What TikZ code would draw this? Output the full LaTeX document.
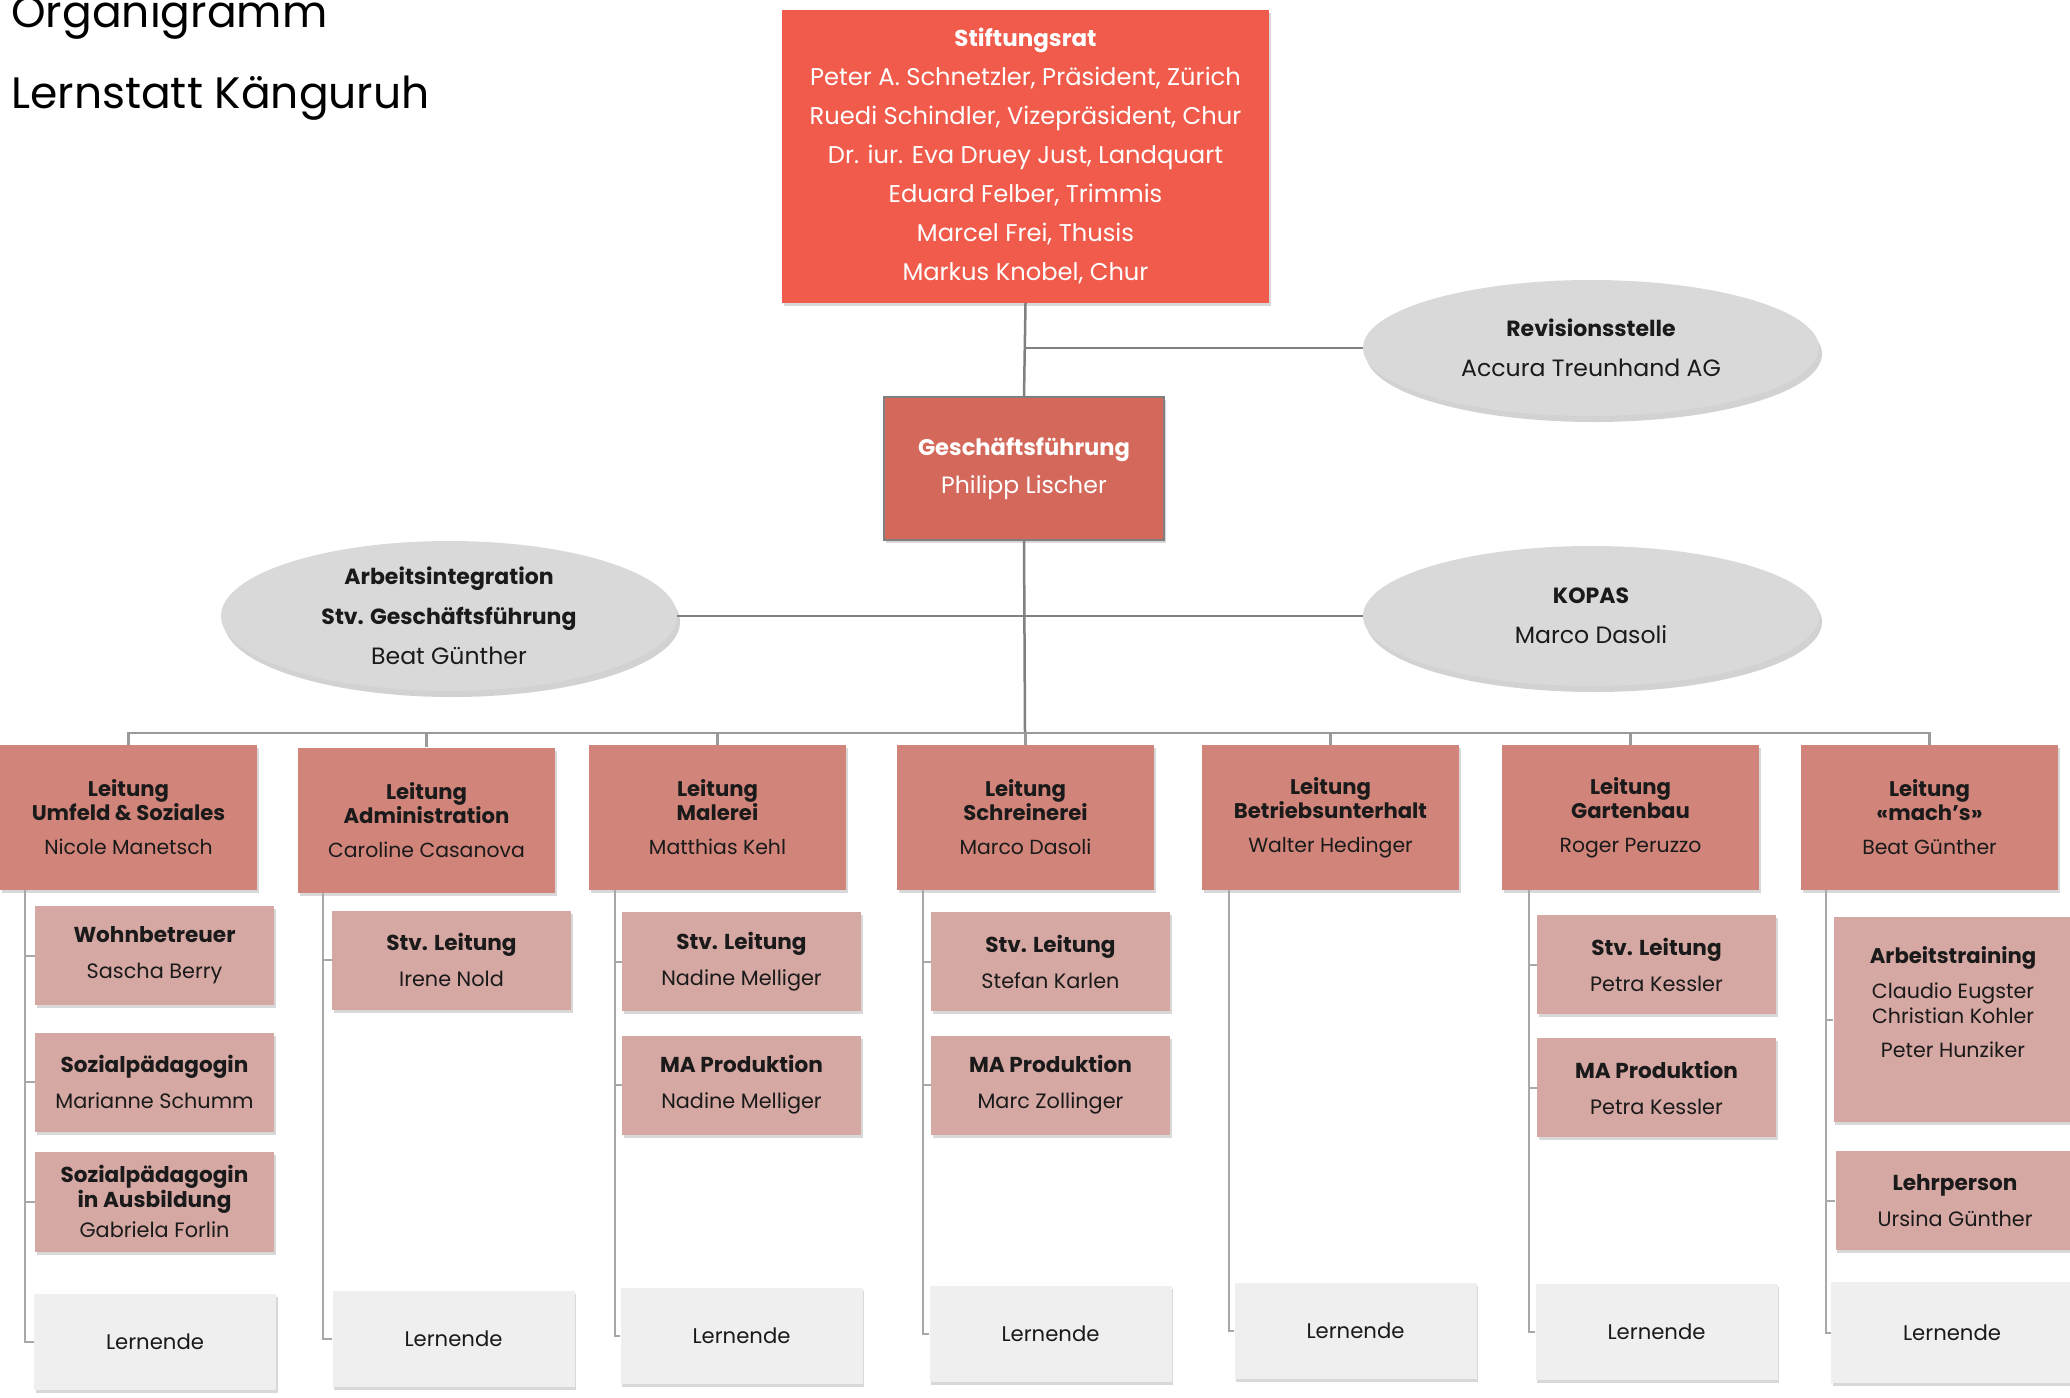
\documentclass[tikz,border=0pt]{standalone}
\usepackage{fontspec}
\setmainfont{Poppins}
\usetikzlibrary{shapes.geometric,shadows}
\definecolor{stiftc}{HTML}{F05B4B}
\definecolor{gfc}{HTML}{D4695B}
\definecolor{gfborder}{HTML}{7F7F7F}
\definecolor{leitc}{HTML}{D1847A}
\definecolor{subc}{HTML}{D6A8A3}
\definecolor{lernc}{HTML}{EFEFEF}
\definecolor{ellc}{HTML}{D9D9D9}
\definecolor{linec}{HTML}{808080}
\definecolor{buslinec}{HTML}{9A9A9A}
\definecolor{sublinec}{HTML}{A8A8A8}
\definecolor{txtc}{HTML}{1A1A1A}
\newcommand\bt[2]{{\fontsize{#1}{#1}\selectfont\bfseries #2}}
\newcommand\ltg[2]{\bt{10.6}{Leitung}\\\bt{10.6}{#1}\\[5pt]#2}
\newcommand\sbx[2]{\bt{10.8}{#1}\\[6pt]#2}
\begin{document}
\begin{tikzpicture}[x=0.5pt,y=-0.5pt,
  shade/.style={drop shadow={opacity=0.3,shadow xshift=0.8pt,shadow yshift=-1.5pt}},
  box/.style={rectangle,inner sep=0pt,align=center,text=txtc,shade},
  stiftbox/.style={box,fill=stiftc,text=white,minimum width=243.5pt,minimum height=146.5pt,font=\fontsize{12.1}{19.5}\selectfont},
  gfbox/.style={box,fill=gfc,draw=gfborder,line width=0.8pt,text=white,minimum width=140pt,minimum height=71.5pt,font=\fontsize{11.8}{19}\selectfont},
  leitbox/.style={box,fill=leitc,minimum width=128.5pt,minimum height=72.5pt,font=\fontsize{10.2}{12}\selectfont},
  subbox/.style={box,fill=subc,minimum width=119.5pt,minimum height=49.5pt,font=\fontsize{10.4}{12}\selectfont},
  lernbox/.style={box,fill=lernc,minimum width=121pt,minimum height=48pt,font=\fontsize{10.6}{12}\selectfont},
  ellnode/.style={ellipse,fill=ellc,inner sep=0pt,align=center,text=txtc,minimum width=228pt,
     drop shadow={opacity=0.35,shadow xshift=1.5pt,shadow yshift=-3pt},font=\fontsize{11.8}{20}\selectfont},
  txtnode/.style={inner sep=0pt,align=center,text=txtc},
  conn/.style={draw=linec,line width=1.25pt},
  busconn/.style={draw=buslinec,line width=1.1pt},
  subconn/.style={draw=sublinec,line width=1pt},
  titletxt/.style={inner sep=0pt,anchor=base west,font=\fontsize{22}{24}\selectfont,text=black}
]
\useasboundingbox[fill=white] (0,0) rectangle (2070,1397);

% title
\node[titletxt] (t1) at (11,27) {Organigramm};
\node[titletxt] (t2) at (11,108) {Lernstatt Känguruh};

% top
\node[stiftbox] (stift) at (1025.5,156) {\bt{11.5}{Stiftungsrat}\\Peter A. Schnetzler, Präsident, Zürich\\Ruedi Schindler, Vizepräsident, Chur\\Dr. iur. Eva Druey Just, Landquart\\Eduard Felber, Trimmis\\Marcel Frei, Thusis\\Markus Knobel, Chur};
\node[gfbox] (gf) at (1024,468.5) {\bt{11.3}{Geschäftsführung}\\Philipp Lischer};
\node[ellnode,minimum height=68pt] (rev) at (1591,348) {\bt{11}{Revisionsstelle}\\Accura Treunhand AG};
\node[ellnode,minimum height=75pt] (ai) at (449,616) {\bt{11}{Arbeitsintegration}\\\bt{11}{Stv. Geschäftsführung}\\Beat Günther};
\node[ellnode,minimum height=70pt] (kopas) at (1591,616) {\bt{11}{KOPAS}\\Marco Dasoli};

% Leitung row
\node[leitbox] (l1) at (128.5,817.5) {\ltg{Umfeld \& Soziales}{Nicole Manetsch}};
\node[leitbox] (l2) at (426.5,820) {\ltg{Administration}{Caroline Casanova}};
\node[leitbox] (l3) at (717.5,817.5) {\ltg{Malerei}{Matthias Kehl}};
\node[leitbox] (l4) at (1025.5,817.5) {\ltg{Schreinerei}{Marco Dasoli}};
\node[leitbox] (l5) at (1330.5,817.5) {\ltg{Betriebsunterhalt}{Walter Hedinger}};
\node[leitbox] (l6) at (1630.5,817.5) {\ltg{Gartenbau}{Roger Peruzzo}};
\node[leitbox] (l7) at (1929.5,817.5) {\ltg{«mach’s»}{Beat Günther}};

% column 1
\node[subbox] (wohn) at (154.5,955.5) {\sbx{Wohnbetreuer}{Sascha Berry}};
\node[subbox] (sozp) at (154.5,1082) {\sbx{Sozialpädagogin}{Marianne Schumm}};
\node[subbox,minimum height=50pt] (soza) at (154.5,1201.5) {\bt{10.8}{Sozialpädagogin}\\[0.5pt]\bt{10.8}{in Ausbildung}\\[3pt]Gabriela Forlin};
\node[lernbox] (lern1) at (155,1341.5) {Lernende};
% column 2
\node[subbox] (stv2) at (451.5,960) {\sbx{Stv. Leitung}{Irene Nold}};
\node[lernbox] (lern2) at (453.5,1339) {Lernende};
% column 3
\node[subbox] (stv3) at (741.5,961.5) {\sbx{Stv. Leitung}{Nadine Melliger}};
\node[subbox] (ma3) at (741.5,1085) {\sbx{MA Produktion}{Nadine Melliger}};
\node[lernbox] (lern3) at (741.5,1336) {Lernende};
% column 4
\node[subbox] (stv4) at (1050.5,961.5) {\sbx{Stv. Leitung}{Stefan Karlen}};
\node[subbox] (ma4) at (1050.5,1085) {\sbx{MA Produktion}{Marc Zollinger}};
\node[lernbox] (lern4) at (1050.5,1333.5) {Lernende};
% column 5
\node[lernbox] (lern5) at (1355.5,1331) {Lernende};
% column 6
\node[subbox] (stv6) at (1656.5,964.5) {\sbx{Stv. Leitung}{Petra Kessler}};
\node[subbox] (ma6) at (1656.5,1087.5) {\sbx{MA Produktion}{Petra Kessler}};
\node[lernbox] (lern6) at (1656.5,1332) {Lernende};
% column 7
\node[subbox,minimum height=102.5pt] (at7) at (1953,1019.5) {};
\node[txtnode,font=\fontsize{10.3}{12}\selectfont] (at7t) at (1953,1002) {\bt{10.6}{Arbeitstraining}\\[5.5pt]Claudio Eugster\\[0.5pt]Christian Kohler\\[5pt]Peter Hunziker};
\node[subbox] (lehr7) at (1955,1200.5) {\sbx{Lehrperson}{Ursina Günther}};
\node[lernbox,minimum height=50.5pt] (lern7) at (1952,1332.5) {Lernende};

% main connectors
\draw[conn] (stift.south) -- (gf.north);
\coordinate (jr) at (1025,348);
\draw[conn] (jr) -- (rev.west);
\draw[conn] (ai.east) -- (kopas.west);
\coordinate (bus) at (1025,733);
\draw[conn] (gf.south) -- (bus);
\foreach \i in {1,...,7} { \draw[busconn] (bus) -| (l\i.north); }

% column connectors
\coordinate (c1) at (25,890);
\coordinate (c2) at (323,893);
\coordinate (c3) at (615,890);
\coordinate (c4) at (923,890);
\coordinate (c5) at (1229,890);
\coordinate (c6) at (1529,890);
\coordinate (c7) at (1826,890);
\foreach \n in {wohn,sozp,soza,lern1} { \draw[subconn] (c1) |- (\n.west); }
\foreach \n in {stv2,lern2} { \draw[subconn] (c2) |- (\n.west); }
\foreach \n in {stv3,ma3,lern3} { \draw[subconn] (c3) |- (\n.west); }
\foreach \n in {stv4,ma4,lern4} { \draw[subconn] (c4) |- (\n.west); }
\draw[subconn] (c5) |- (lern5.west);
\foreach \n in {stv6,ma6,lern6} { \draw[subconn] (c6) |- (\n.west); }
\foreach \n in {at7,lehr7,lern7} { \draw[subconn] (c7) |- (\n.west); }
\end{tikzpicture}
\end{document}
